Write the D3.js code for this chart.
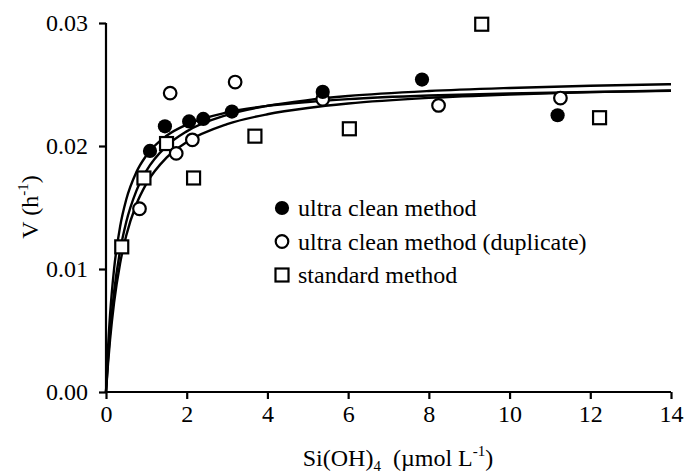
<!DOCTYPE html>
<html>
<head>
<meta charset="utf-8">
<script src="https://cdn.jsdelivr.net/npm/d3@7/dist/d3.min.js"></script>
<style>
  html, body { margin: 0; padding: 0; background: #fff; }
  svg { display: block; }
  svg text { font-family: "Liberation Serif", "Times New Roman", serif !important; fill: #000; }
</style>
</head>
<body>
<svg id="chart" width="685" height="476"></svg>
<script>
// Measured points: Si(OH)4 concentration vs uptake rate V
const cleanX = [1.09, 1.46, 2.06, 2.41, 3.12, 5.37, 7.83, 11.19];
const cleanV = [0.0196, 0.0216, 0.0220, 0.0222, 0.0228, 0.0244, 0.0254, 0.0225];

const dupX = [0.83, 1.59, 1.74, 2.14, 3.20, 5.37, 8.24, 11.26];
const dupV = [0.0149, 0.0243, 0.0194, 0.0205, 0.0252, 0.0238, 0.0233, 0.0239];

const stdX = [0.39, 0.94, 1.50, 2.17, 3.69, 6.03, 9.31, 12.23];
const stdV = [0.0118, 0.0174, 0.0202, 0.0174, 0.0208, 0.0214, 0.0299, 0.0223];

// Fitted curves
const curveX = [0, 0.05, 0.1, 0.2, 0.35, 0.5, 0.75, 1, 1.5, 2, 3, 4, 5, 6, 8, 10, 12, 14];
const fitClean = [0, 0.00357, 0.00625, 0.0100, 0.01346, 0.01563, 0.01786, 0.01923, 0.02083, 0.02174, 0.02273, 0.02326, 0.02358, 0.02381, 0.02410, 0.02427, 0.02439, 0.02448];
const fitStd = [0, 0.00266, 0.00482, 0.00813, 0.01150, 0.01380, 0.01633, 0.01798, 0.02000, 0.02119, 0.02253, 0.02327, 0.02373, 0.02406, 0.02447, 0.02472, 0.02490, 0.02502];
const fitDup = [0, 0.00231, 0.00423, 0.00726, 0.01046, 0.01270, 0.01524, 0.01693, 0.01905, 0.02032, 0.02177, 0.02258, 0.02309, 0.02345, 0.02391, 0.02419, 0.02438, 0.02452];

const xTicks = [0, 2, 4, 6, 8, 10, 12, 14];
const yTicks = [0, 0.01, 0.02, 0.03];
const legendLabels = ['ultra clean method', 'ultra clean method (duplicate)', 'standard method'];

const svg = d3.select('#chart');

const x = d3.scaleLinear().domain([0, 14]).range([106, 671]);
const y = d3.scaleLinear().domain([0, 0.03]).range([392, 23]);

// axes
const xAxis = svg.append('g')
  .attr('transform', `translate(0,${y(0)})`)
  .call(d3.axisBottom(x).tickValues(xTicks).tickSize(7).tickSizeOuter(0).tickPadding(6).tickFormat(d3.format('d')));

const yAxis = svg.append('g')
  .attr('transform', `translate(${x(0)},0)`)
  .call(d3.axisLeft(y).tickValues(yTicks).tickSize(7).tickSizeOuter(0).tickPadding(11).tickFormat(d3.format('.2f')));

[xAxis, yAxis].forEach((a) => {
  a.attr('font-family', null).attr('font-size', null);
  a.select('.domain').attr('stroke', '#000').attr('stroke-width', 2.2);
  a.selectAll('.tick line').attr('stroke', '#000').attr('stroke-width', 2.2);
  a.selectAll('.tick text').style('font-size', '24px');
});
yAxis.select('.domain').attr('d', `M0,${y(0)}V${y(0.03)}`);
xAxis.select('.domain').attr('d', `M${x(0)},0H${x(14)}`);

// fitted lines
const line = d3.line()
  .x((d) => x(d[0]))
  .y((d) => y(d[1]))
  .curve(d3.curveMonotoneX);

[fitClean, fitStd, fitDup].forEach((vals) => {
  svg.append('path')
    .datum(curveX.map((s, i) => [s, vals[i]]))
    .attr('d', line)
    .attr('fill', 'none')
    .attr('stroke', '#000')
    .attr('stroke-width', 2.4);
});

// points
const R = 6.3;
const SQ = 13;

svg.append('g').selectAll('rect')
  .data(stdX.map((s, i) => [s, stdV[i]]))
  .join('rect')
  .attr('x', (d) => x(d[0]) - SQ / 2)
  .attr('y', (d) => y(d[1]) - SQ / 2)
  .attr('width', SQ)
  .attr('height', SQ)
  .attr('fill', '#fff')
  .attr('stroke', '#000')
  .attr('stroke-width', 2.2);

svg.append('g').selectAll('circle')
  .data(dupX.map((s, i) => [s, dupV[i]]))
  .join('circle')
  .attr('cx', (d) => x(d[0]))
  .attr('cy', (d) => y(d[1]))
  .attr('r', R)
  .attr('fill', '#fff')
  .attr('stroke', '#000')
  .attr('stroke-width', 2.2);

svg.append('g').selectAll('circle')
  .data(cleanX.map((s, i) => [s, cleanV[i]]))
  .join('circle')
  .attr('cx', (d) => x(d[0]))
  .attr('cy', (d) => y(d[1]))
  .attr('r', R + 0.8)
  .attr('fill', '#000');

// legend
const legend = svg.append('g').attr('transform', 'translate(282,208)');
const rowH = 33.5;
legendLabels.forEach((label, i) => {
  const row = legend.append('g').attr('transform', `translate(0,${i * rowH})`);
  if (i === 0) {
    row.append('circle').attr('r', R + 0.8).attr('fill', '#000');
  } else if (i === 1) {
    row.append('circle').attr('r', R).attr('fill', '#fff').attr('stroke', '#000').attr('stroke-width', 2.2);
  } else {
    row.append('rect').attr('x', -SQ / 2).attr('y', -SQ / 2).attr('width', SQ).attr('height', SQ)
      .attr('fill', '#fff').attr('stroke', '#000').attr('stroke-width', 2.2);
  }
  row.append('text')
    .attr('x', 16)
    .attr('y', 8)
    .style('font-size', '24px')
    .text(label);
});

// axis titles
const xt = svg.append('text')
  .attr('x', 398)
  .attr('y', 466)
  .attr('text-anchor', 'middle')
  .style('font-size', '24px');
xt.append('tspan').text('Si(OH)');
xt.append('tspan').attr('dy', 5).style('font-size', '15px').text('4');
xt.append('tspan').attr('dy', -5).text('\u00a0\u00a0(\u00b5mol L');
xt.append('tspan').attr('dy', -10).style('font-size', '15px').text('-1');
xt.append('tspan').attr('dy', 10).text(')');

const yt = svg.append('text')
  .attr('transform', 'translate(38,207) rotate(-90)')
  .attr('text-anchor', 'middle')
  .style('font-size', '24px');
yt.append('tspan').text('V (h');
yt.append('tspan').attr('dy', -10).style('font-size', '15px').text('-1');
yt.append('tspan').attr('dy', 10).text(')');
</script>
</body>
</html>
